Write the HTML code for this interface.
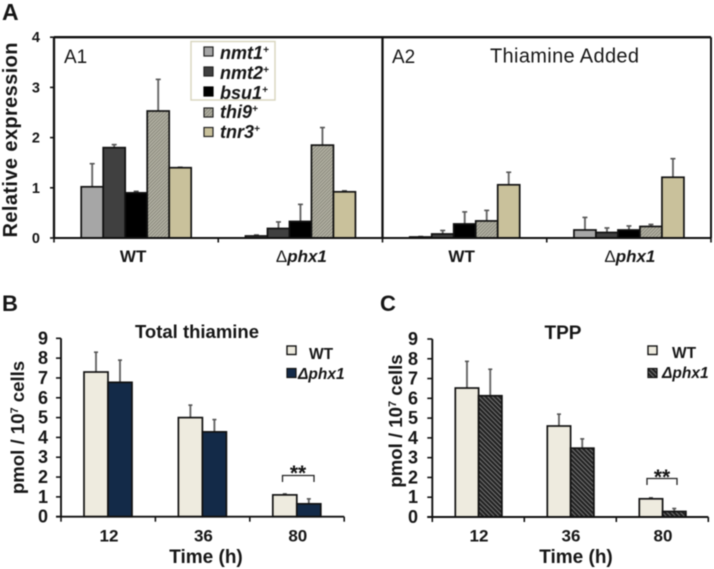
<!DOCTYPE html>
<html>
<head>
<meta charset="utf-8">
<title>Relative expression and thiamine levels</title>
<style>
html,body{margin:0;padding:0;background:#fff;width:714px;height:569px;overflow:hidden}
svg{display:block;filter:blur(0.55px)}
text{font-family:"Liberation Sans",sans-serif;fill:#161616}
.b{font-weight:bold}
.bi{font-weight:bold;font-style:italic}
</style>
</head>
<body>
<svg id="figure" xmlns="http://www.w3.org/2000/svg" width="714" height="569" viewBox="0 0 714 569">
  <defs>
    <pattern id="thiHatch" patternUnits="userSpaceOnUse" width="2.4" height="2.4" patternTransform="rotate(45)">
      <rect width="2.4" height="2.4" fill="#b3b2a4"/>
      <rect width="1" height="2.4" fill="#8a897c"/>
    </pattern>
    <pattern id="tppHatch" patternUnits="userSpaceOnUse" width="3.2" height="3.2" patternTransform="rotate(-45)">
      <rect width="3.2" height="3.2" fill="#222"/>
      <rect width="1" height="3.2" fill="#777"/>
    </pattern>
  </defs>

  <g id="marks"></g>

  <text class="b" x="2" y="20" font-size="23">A</text>
  <text class="b" x="2" y="311" font-size="22">B</text>
  <text class="b" x="380" y="311" font-size="22">C</text>

  <text class="b" transform="translate(17,140) rotate(-90)" text-anchor="middle" font-size="20" textLength="195" lengthAdjust="spacing">Relative expression</text>
  <text x="64" y="63" font-size="19">A1</text>
  <text x="392" y="63" font-size="19">A2</text>
  <text x="490" y="62.5" font-size="20" textLength="149" lengthAdjust="spacing">Thiamine Added</text>

  <g>
    <rect x="191" y="41.5" width="84" height="58.5" fill="#fff" stroke="#d8d5bd" stroke-width="1.4"/>
    <rect x="204" y="47" width="9" height="9" fill="#a6a6a6" stroke="#222" stroke-width="1.2"/>
    <rect x="204" y="67" width="9" height="9" fill="#404040" stroke="#222" stroke-width="1.2"/>
    <rect x="204" y="87" width="9" height="9" fill="#000" stroke="#000" stroke-width="1.2"/>
    <rect x="204" y="108" width="9" height="9" fill="url(#thiHatch)" stroke="#222" stroke-width="1.2"/>
    <rect x="204" y="127.5" width="9" height="9" fill="#c9c19b" stroke="#222" stroke-width="1.2"/>
    <text class="bi" x="220" y="59" font-size="18">nmt1<tspan font-size="10" dy="-6">+</tspan></text>
    <text class="bi" x="220" y="79" font-size="18">nmt2<tspan font-size="10" dy="-6">+</tspan></text>
    <text class="bi" x="220" y="99" font-size="18">bsu1<tspan font-size="10" dy="-6">+</tspan></text>
    <text class="bi" x="220" y="118" font-size="18">thi9<tspan font-size="10" dy="-6">+</tspan></text>
    <text class="bi" x="220" y="138" font-size="18">tnr3<tspan font-size="10" dy="-6">+</tspan></text>
  </g>

  <text class="b" x="197" y="338" text-anchor="middle" font-size="18.5">Total thiamine</text>
  <text class="b" transform="translate(24,427.5) rotate(-90)" text-anchor="middle" font-size="18.6">pmol / 10<tspan font-size="11" dy="-6">7</tspan><tspan dy="6"> cells</tspan></text>
  <text class="b" x="206" y="563" text-anchor="middle" font-size="19">Time (h)</text>
  <g>
    <rect x="287" y="346" width="9" height="8.5" fill="#eeebdf" stroke="#111" stroke-width="1.4"/>
    <rect x="287" y="368.5" width="9" height="9" fill="#132a48" stroke="#111" stroke-width="1.2"/>
    <text class="b" x="309" y="359" font-size="15.5">WT</text>
    <text class="bi" x="298" y="379" font-size="15.5">Δphx1</text>
  </g>

  <text class="b" x="563" y="339" text-anchor="middle" font-size="19">TPP</text>
  <text class="b" transform="translate(402,421) rotate(-90)" text-anchor="middle" font-size="18.6">pmol / 10<tspan font-size="11" dy="-6">7</tspan><tspan dy="6"> cells</tspan></text>
  <text class="b" x="576" y="563" text-anchor="middle" font-size="19">Time (h)</text>
  <g>
    <rect x="648" y="346" width="9" height="8.5" fill="#eeebdf" stroke="#111" stroke-width="1.4"/>
    <rect x="648" y="368.5" width="9" height="9" fill="url(#tppHatch)" stroke="#111" stroke-width="1.2"/>
    <text class="b" x="672" y="358" font-size="15.5">WT</text>
    <text class="bi" x="662" y="378" font-size="15.5">Δphx1</text>
  </g>

  <g>
    <path d="M282.5 482V475.5H314V482" fill="none" stroke="#222" stroke-width="1.3"/>
    <text class="b" x="298" y="480" text-anchor="middle" font-size="21">**</text>
  </g>
  <g>
    <path d="M647 485V478.5H677V485" fill="none" stroke="#222" stroke-width="1.3"/>
    <text class="b" x="662" y="484" text-anchor="middle" font-size="21">**</text>
  </g>
</svg>

<script>
// ---- Panel A data ----
const aGenes = ['nmt1', 'nmt2', 'bsu1', 'thi9', 'tnr3'];
const aCategories = ['WT', 'phx1'];
const aTickLabels = [0, 1, 2, 3, 4];
const a1WtValues = [1.02, 1.80, 0.90, 2.53, 1.40];
const a1WtErrors = [0.46, 0.06, 0.03, 0.63, 0.01];
const a1PhxValues = [0.04, 0.19, 0.33, 1.85, 0.92];
const a1PhxErrors = [0.02, 0.13, 0.34, 0.35, 0.02];
const a2WtValues = [0.02, 0.08, 0.28, 0.34, 1.06];
const a2WtErrors = [0.01, 0.07, 0.24, 0.21, 0.25];
const a2PhxValues = [0.16, 0.11, 0.16, 0.23, 1.21];
const a2PhxErrors = [0.25, 0.09, 0.08, 0.04, 0.37];

// ---- Panels B and C data ----
const timeCategories = ['12', '36', '80'];
const bcTickLabels = [0, 1, 2, 3, 4, 5, 6, 7, 8, 9];
const bWtValues = [7.30, 5.00, 1.10];
const bWtErrors = [1.00, 0.63, 0.05];
const bPhxValues = [6.78, 4.28, 0.65];
const bPhxErrors = [1.12, 0.62, 0.25];
const cWtValues = [6.52, 4.60, 0.92];
const cWtErrors = [1.35, 0.60, 0.05];
const cPhxValues = [6.13, 3.48, 0.28];
const cPhxErrors = [1.34, 0.47, 0.15];

const NS = 'http://www.w3.org/2000/svg';
const root = document.getElementById('marks');

function el(tag, name, props) {
  const node = document.createElementNS(NS, tag);
  for (const k in props) node.setAttribute(k, props[k]);
  
  
  root.appendChild(node);
  return node;
}

function line(name, x1, y1, x2, y2, stroke, width) {
  return el('line', name, { x1, y1, x2, y2, stroke, 'stroke-width': width });
}

function label(name, x, y, str, size, anchor) {
  const t = el('text', name, { x, y, 'font-size': size, 'text-anchor': anchor, 'font-weight': 'bold' });
  t.textContent = str;
  return t;
}

function drawBar(name, x, w, v, err, yFn, fill, capW) {
  const topErr = yFn(v + err);
  const cx = x + w / 2;
  line(name + '-error', cx, yFn(v), cx, topErr, '#666', 1.9);
  line(name + '-error-cap', cx - capW / 2, topErr, cx + capW / 2, topErr, '#555', 1.6);
  el('rect', name, {
    x, y: yFn(v), width: w, height: Math.max(0, yFn(0) - yFn(v)),
    fill, stroke: '#111', 'stroke-width': 1.7
  });
}

// ---- Panel A ----
const aX0 = 54, aCatW = 164.25, aBarW = 22, aPad = 27.2;
const aY = v => 238 - v * 50.2;
const aFills = ['#a6a6a6', '#404040', '#000000', 'url(#thiHatch)', '#c9c19b'];
const aSeries = [
  ['a1-wt', a1WtValues, a1WtErrors],
  ['a1-phx1', a1PhxValues, a1PhxErrors],
  ['a2-wt', a2WtValues, a2WtErrors],
  ['a2-phx1', a2PhxValues, a2PhxErrors]
];

aSeries.forEach(function (group, gi) {
  group[1].forEach(function (v, i) {
    const x = aX0 + gi * aCatW + aPad + i * aBarW;
    drawBar('bar-' + group[0] + '-' + aGenes[i], x, aBarW, v, group[2][i], aY, aFills[i], 5);
  });
});

line('panel-a-top-frame', aX0, aY(4), aX0 + 4 * aCatW, aY(4), '#111', 2.3);
line('panel-a-y-axis', aX0, aY(4), aX0, aY(0), '#111', 2.3);
line('panel-a-divider', aX0 + 2 * aCatW, aY(4), aX0 + 2 * aCatW, aY(0), '#111', 2.3);
line('panel-a-right-frame', aX0 + 4 * aCatW, aY(4), aX0 + 4 * aCatW, aY(0), '#111', 2);
line('panel-a-x-axis', aX0, aY(0), aX0 + 4 * aCatW, aY(0), '#111', 2);

aTickLabels.forEach(function (t) {
  line('panel-a-y-tick-' + t, aX0 - 4, aY(t), aX0, aY(t), '#111', 1.6);
  label('panel-a-y-label-' + t, 40, aY(t) + 5, String(t), 14.5, 'end');
});

for (let i = 0; i <= 4; i++) {
  const x = aX0 + i * aCatW;
  line('panel-a-x-tick-' + i, x, aY(0), x, aY(0) + 4.5, '#111', 1.6);
}

for (let i = 0; i < 4; i++) {
  const cat = aCategories[i % 2];
  const cx = aX0 + (i + 0.5) * aCatW - (i % 2 === 0 ? 3 : 0);
  const t = label('panel-a-category-' + i, cx + (i % 2 === 0 ? 0 : 1), 262, '', 17, 'middle');
  if (cat === 'WT') {
    t.textContent = 'WT';
  } else {
    const d = document.createElementNS(NS, 'tspan');
    d.setAttribute('font-weight', 'normal');
    d.textContent = '\u0394';
    t.appendChild(d);
    const p = document.createElementNS(NS, 'tspan');
    p.setAttribute('font-style', 'italic');
    p.textContent = cat;
    t.appendChild(p);
  }
}

// ---- Panels B and C ----
function drawTimePanel(id, x0, catW, barW, pad, y0, unit, tickRight, wt, wtErr, phx, phxErr, phxFill, labelCenters) {
  const yFn = v => y0 - v * unit;
  timeCategories.forEach(function (cat, i) {
    const x = x0 + i * catW + pad;
    drawBar('bar-' + id + '-wt-' + cat, x, barW, wt[i], wtErr[i], yFn, '#eeebdf', 4);
    drawBar('bar-' + id + '-phx1-' + cat, x + barW, barW, phx[i], phxErr[i], yFn, phxFill, 4);
    label('panel-' + id + '-x-label-' + cat, labelCenters + i * catW, 541.7, cat, 17, 'middle');
  });
  const top = yFn(bcTickLabels[bcTickLabels.length - 1]);
  const xEnd = x0 + timeCategories.length * catW;
  line('panel-' + id + '-y-axis', x0, top, x0, y0, '#111', 1.9);
  line('panel-' + id + '-x-axis', x0 - 5, y0, xEnd, y0, '#111', 1.9);
  bcTickLabels.forEach(function (t) {
    line('panel-' + id + '-y-tick-' + t, x0 - 5, yFn(t), x0, yFn(t), '#111', 1.6);
    label('panel-' + id + '-y-label-' + t, tickRight, yFn(t) + 6, String(t), 18, 'end');
  });
  for (let i = 0; i <= timeCategories.length; i++) {
    const x = x0 + i * catW;
    line('panel-' + id + '-x-tick-' + i, x, y0, x, y0 + 5, '#111', 1.6);
  }
}

drawTimePanel('b', 61, 94.4, 24, 23, 516.7, 19.82, 48, bWtValues, bWtErrors, bPhxValues, bPhxErrors, '#132a48', 109);
drawTimePanel('c', 432.3, 92, 23.3, 23, 517, 19.78, 418, cWtValues, cWtErrors, cPhxValues, cPhxErrors, 'url(#tppHatch)', 479);
</script>
</body>
</html>
